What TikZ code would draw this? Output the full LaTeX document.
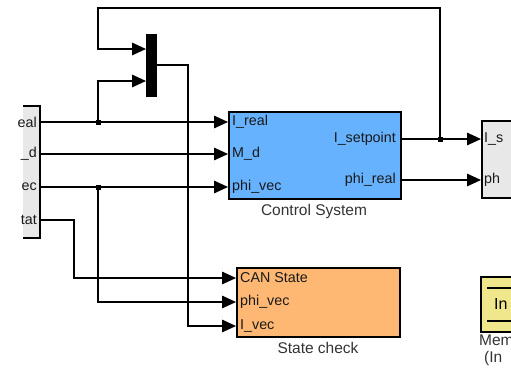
\documentclass[tikz,border=0pt]{standalone}
\usepackage{fontspec}
\setmainfont{Liberation Sans}
\usetikzlibrary{arrows.meta}

\definecolor{csblue}{RGB}{102,178,255}
\definecolor{scorange}{RGB}{255,184,115}
\definecolor{memyellow}{RGB}{240,230,140}
\definecolor{blkgray}{RGB}{232,232,232}

\begin{document}
\begin{tikzpicture}[
  x=1pt, y=-1pt,
  blk/.style={draw, line width=2.4pt, inner sep=0pt, anchor=north west},
  pl/.style={font=\fontsize{14.3}{16}\selectfont, inner sep=0pt, text=black!90},
  bl/.style={font=\fontsize{15.5}{18}\selectfont, inner sep=0pt, text=black!80},
  ln/.style={line width=1.5pt},
  fl/.style={ln, -{Triangle[length=14pt,width=12.5pt]}},
  jn/.style={fill, minimum size=5pt, inner sep=0pt}
]
\useasboundingbox (0,0) rectangle (511,369);
\clip (0,0) rectangle (511,369);

% ---------- bus block on the left (cut off) ----------
\begin{scope}
  \clip (23,0) rectangle (60,369);
  \node[blk, fill=blkgray, anchor=north east, minimum width=40pt,
        minimum height=132pt] (bus) at (41,105) {};
\end{scope}
\node[pl, anchor=east] (bl1) at (37,122) {eal};
\node[pl, anchor=east] (bl2) at (37,154) {\_d};
\node[pl, anchor=east] (bl3) at (37,187) {ec};
\node[pl, anchor=east] (bl4) at (37,220) {tat};
\coordinate (b1) at (41,122);
\coordinate (b2) at (41,154);
\coordinate (b3) at (41,187);
\coordinate (b4) at (41,220);

% ---------- mux ----------
\node[fill, minimum width=11pt, minimum height=63pt, inner sep=0pt] (mx) at (151.5,65.5) {};
\coordinate (mxi1) at (146,49);
\coordinate (mxi2) at (146,81);
\coordinate (mxo)  at (157,65);
\coordinate (tl)   at (98,8);

% ---------- Control System ----------
\node[blk, fill=csblue, minimum width=172pt, minimum height=87pt] (cs) at (228,111) {};
\node[pl, anchor=west] (csi1) at (232,122) {I\_real};
\node[pl, anchor=west] (csi2) at (232,154) {M\_d};
\node[pl, anchor=west] (csi3) at (232,187) {phi\_vec};
\node[pl, anchor=east] (cso1) at (396,139) {I\_setpoint};
\node[pl, anchor=east] (cso2) at (396,180) {phi\_real};
\node[bl] (csl) at (314,211) {Control System};
\coordinate (co1) at (400,139);
\coordinate (co2) at (400,180);

% ---------- State check ----------
\node[blk, fill=scorange, minimum width=163pt, minimum height=69pt] (sc) at (236,267) {};
\node[pl, anchor=west] (sci1l) at (240,278) {CAN State};
\node[pl, anchor=west] (sci2l) at (240,302) {phi\_vec};
\node[pl, anchor=west] (sci3l) at (240,326) {I\_vec};
\node[bl] (scl) at (318,348) {State check};
\coordinate (sci1) at (236,278);
\coordinate (sci2) at (236,302);
\coordinate (sci3) at (236,326);

% ---------- blocks on the right (cut off) ----------
\node[blk, fill=blkgray, minimum width=60pt, minimum height=77pt] (rb) at (481,120) {};
\node[pl, anchor=west] (rbl1) at (484,139) {I\_s};
\node[pl, anchor=west] (rbl2) at (484,180) {ph};

\node[blk, fill=memyellow, minimum width=60pt, minimum height=55pt] (mem) at (480,276) {};
\draw[ln] (487,288) -- (530,288);
\draw[ln] (487,321) -- (530,321);
\node[font=\fontsize{16}{18}\selectfont, inner sep=0pt, anchor=west] (meml) at (494,304) {In};
\node[bl, anchor=west] (memt1) at (479,340) {Mem};
\node[bl, anchor=west] (memt2) at (484,358) {(In};

% ---------- junctions ----------
\node[jn] (j1) at (98,122) {};
\node[jn] (j2) at (98,187) {};
\node[jn] (j3) at (440,139) {};

% ---------- signal lines ----------
\draw[fl] (b1) -- (b1 -| cs.west);
\draw[fl] (b2) -- (b2 -| cs.west);
\draw[fl] (b3) -- (b3 -| cs.west);
\draw[fl] (j1.center) |- (mxi2);
\draw[fl] (j2.center) |- (sci2);
\draw[fl] (b4) -- ++(33,0) |- (sci1);
\draw[fl] (mxo) -- ++(31,0) |- (sci3);
\draw[fl] (co1) -- (co1 -| rb.west);
\draw[fl] (co2) -- (co2 -| rb.west);
\draw[fl] (j3.center) |- (tl) |- (mxi1);

\end{tikzpicture}
\end{document}
